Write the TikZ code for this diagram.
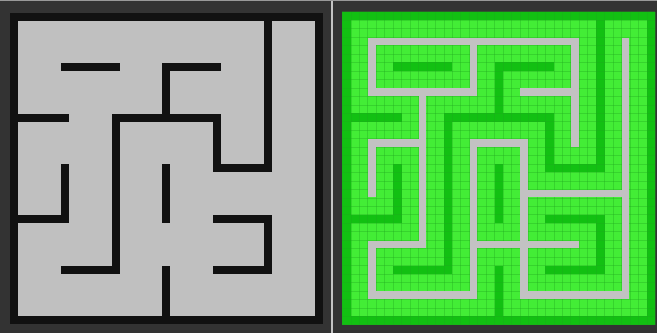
\documentclass[tikz,border=0pt]{standalone}

\definecolor{bgdark}{HTML}{333333}
\definecolor{sepgray}{HTML}{C4C4C4}
\definecolor{wallblack}{HTML}{111111}
\definecolor{floorgray}{HTML}{C0C0C0}
\definecolor{tilelight}{HTML}{43ED36}
\definecolor{tiledark}{HTML}{12C012}
\definecolor{tileline}{HTML}{1FA81F}
\definecolor{pathgray}{HTML}{C2C2C2}

% maze walls a/b/c/d on the 6x6 cell grid (corner points)
\newcommand{\mazewalls}{0/0/6/0, 6/0/6/6, 0/6/6/6, 0/0/0/6,
  1/1/2/1, 3/1/4/1, 3/1/3/2, 5/0/5/3, 0/2/1/2,
  2/2/4/2, 4/2/4/3, 4/3/5/3, 2/2/2/5, 1/5/2/5,
  1/3/1/4, 0/4/1/4, 3/3/3/4, 4/4/5/4, 5/4/5/5, 4/5/5/5, 3/5/3/6}
% open passages between cell centres
\newcommand{\mazepath}{0/0/4/0, 0/0/0/1, 0/1/2/1, 2/0/2/1, 4/0/4/2,
  3/1/4/1, 1/1/1/4, 0/2/1/2, 0/2/0/3, 0/4/1/4, 0/4/0/5,
  0/5/2/5, 2/2/2/5, 2/2/3/2, 3/2/3/5, 2/4/4/4, 3/3/5/3,
  5/0/5/5, 3/5/5/5}

\begin{document}
\begin{tikzpicture}[
    x=1pt, y=-1pt,
    wall/.style={draw=wallblack, line width=8pt, line cap=rect},
    tilegrid/.style={draw=tileline, line width=0.5pt, opacity=0.35},
    pathline/.style={draw=pathgray, line width=7.4pt, line cap=rect}
]
\useasboundingbox (0,0) rectangle (657,333);
\fill[bgdark] (0,0) rectangle (657,333);
\fill[sepgray] (330.5,0) rectangle (333,333);
\fill[black!40] (0,0) rectangle (657,0.8);

% left: plain maze
\begin{scope}[shift={(14,16.8)}, x=50.8pt, y=-50.55pt]
\fill[floorgray] (0,0) rectangle (6,6);
\foreach \a/\b/\c/\d in \mazewalls
    \draw[wall] (\a,\b) -- (\c,\d);
\end{scope}

% right: tiled maze with passages
\begin{scope}[shift={(342.3,11.7)}, x=8.46pt, y=-8.46pt]
\fill[tilelight] (0,0) rectangle (37,37);
\foreach \a/\b/\c/\d in \mazewalls
    \fill[tiledark] ({6*\a},{6*\b}) rectangle ({6*\c+1},{6*\d+1});
\foreach \k in {0,...,37} {
    \draw[tilegrid] (\k,0) -- (\k,37);
    \draw[tilegrid] (0,\k) -- (37,\k);
}
\foreach \a/\b/\c/\d in \mazepath
    \draw[pathline] ({6*\a+3.5},{6*\b+3.5}) -- ({6*\c+3.5},{6*\d+3.5});
\end{scope}

\end{tikzpicture}
\end{document}
